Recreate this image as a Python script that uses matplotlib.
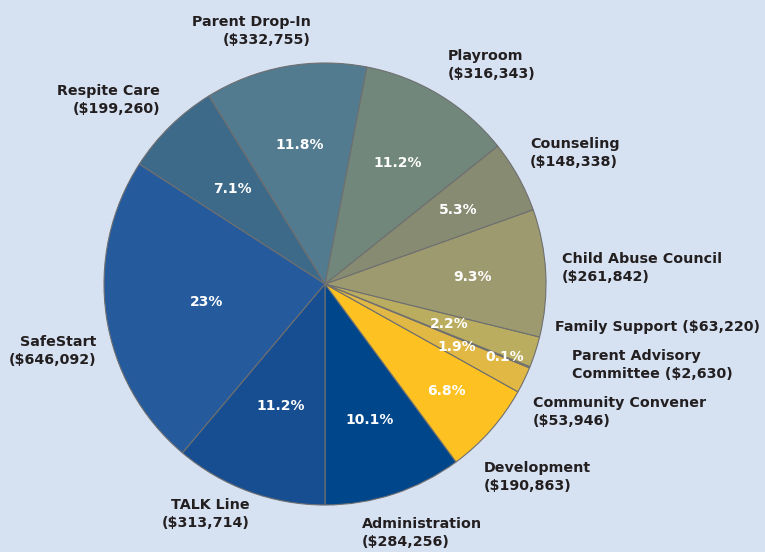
import matplotlib.pyplot as plt
import numpy as np

# budget data
categories = ['Administration', 'Development', 'Community Convener',
              'Parent Advisory Committee', 'Family Support', 'Child Abuse Council',
              'Counseling', 'Playroom', 'Parent Drop-In', 'Respite Care',
              'SafeStart', 'TALK Line']
amounts = [284256, 190863, 53946, 2630, 63220, 261842,
           148338, 316343, 332755, 199260, 646092, 313714]
pct_labels = ['10.1%', '6.8%', '1.9%', '0.1%', '2.2%', '9.3%',
              '5.3%', '11.2%', '11.8%', '7.1%', '23%', '11.2%']
outer_labels = ['Administration\n($284,256)', 'Development\n($190,863)',
                'Community Convener\n($53,946)', 'Parent Advisory\nCommittee ($2,630)',
                'Family Support ($63,220)', 'Child Abuse Council\n($261,842)',
                'Counseling\n($148,338)', 'Playroom\n($316,343)',
                'Parent Drop-In\n($332,755)', 'Respite Care\n($199,260)',
                'SafeStart\n($646,092)', 'TALK Line\n($313,714)']

# styling
colors = ['#00468b', '#fdc221', '#e1b843', '#cdb251', '#bbad60', '#9e9a70',
          '#878b72', '#71877b', '#527b90', '#3e6a8a', '#255b9c', '#174e91']
pct_radius = [0.65, 0.73, 0.66, 0.88, 0.59, 0.67, 0.69, 0.64, 0.64, 0.60, 0.54, 0.59]
# label anchor (x, y in pixels from top-left) and alignment
label_pos = [(362, 533, 'left'), (484, 477, 'left'), (533, 412, 'left'),
             (572, 365, 'left'), (555, 327, 'left'), (562, 268, 'left'),
             (530, 153, 'left'), (448, 65, 'left'), (311, 31, 'right'),
             (160, 100, 'right'), (96, 351, 'right'), (250, 514, 'right')]

W, H = 765, 552
bg = '#d6e1f2'
text_col = '#231f20'
plt.rcParams['font.family'] = ['DejaVu Sans']

fig = plt.figure(figsize=(W / 100, H / 100), dpi=100, facecolor=bg)
ax = fig.add_axes([0, 0, 1, 1])
ax.set_facecolor(bg)

cx, cy, r = 325, H - 284, 221
wedges, _ = ax.pie(amounts, colors=colors, startangle=-90, counterclock=True,
                   center=(cx, cy), radius=r, frame=True,
                   wedgeprops=dict(edgecolor='#6f6f6f', linewidth=0.8))
ax.set_xlim(0, W)
ax.set_ylim(0, H)
ax.set_aspect('equal')
ax.axis('off')

for w, lab, pr in zip(wedges, pct_labels, pct_radius):
    ang = np.deg2rad((w.theta1 + w.theta2) / 2)
    ax.text(cx + pr * r * np.cos(ang), cy + pr * r * np.sin(ang), lab,
            color='white', fontsize=10, fontweight='bold', ha='center', va='center')

for lab, (x, y, ha) in zip(outer_labels, label_pos):
    ax.text(x, H - y, lab, color=text_col, fontsize=10.3, fontweight='bold',
            ha=ha, va='center', linespacing=1.45, multialignment=ha)

fig.savefig('out.png', dpi=100, facecolor=bg)
